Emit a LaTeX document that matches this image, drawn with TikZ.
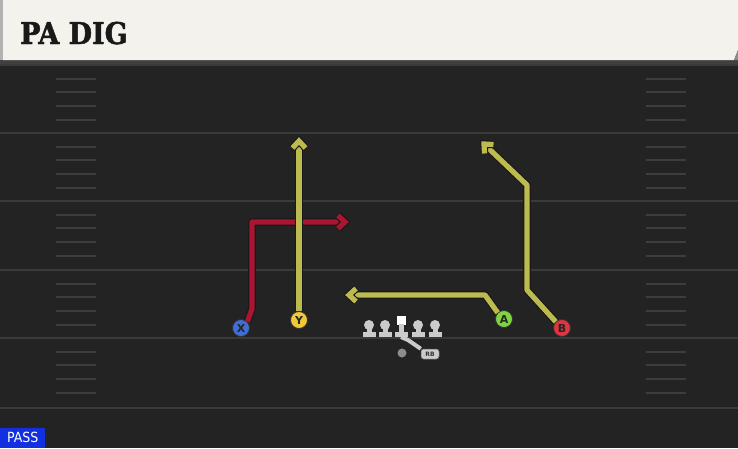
\documentclass[tikz,border=0pt]{standalone}
\usepackage{fontspec}
\usetikzlibrary{calc}
\setmainfont{DejaVu Sans}
\newfontfamily\titlefont{DejaVu Serif Condensed Bold}[FakeBold=1.6]
\newfontfamily\passfont{DejaVu Sans Condensed}
\definecolor{fieldbg}{HTML}{232323}
\definecolor{yardline}{HTML}{3A3A3A}
\definecolor{hashc}{HTML}{3D3D3D}
\definecolor{cream}{HTML}{F4F2EC}
\definecolor{routered}{HTML}{AA1531}
\definecolor{routeyel}{HTML}{BDBA50}
\definecolor{pblue}{HTML}{3F6FD6}
\definecolor{pyel}{HTML}{F0C93A}
\definecolor{pgreen}{HTML}{7FD63C}
\definecolor{pred}{HTML}{E0343F}
\definecolor{olgray}{HTML}{CBCBCB}
\definecolor{passblue}{HTML}{1230E0}
\tikzset{
  yard/.style={draw=yardline, line width=2},
  hashmark/.style={draw=hashc, line width=2},
  route/.style={line width=5.2, line join=round, line cap=butt,
    preaction={draw=black!90, line width=7.6, line join=round}},
  chev/.style={line width=5.2, line join=miter, line cap=butt,
    preaction={draw=black!90, line width=7.6, line join=miter, line cap=square}},
  player/.style={circle, draw=black!80, line width=0.8, minimum size=17, inner sep=0,
    font=\bfseries\fontsize{11}{11}\selectfont, text=black!85},
  olc/.style={fill=olgray},
}
\begin{document}
\begin{tikzpicture}[x=1pt,y=-1pt]
\useasboundingbox (0,0) rectangle (738,448);
\fill[fieldbg] (0,0) rectangle (738,448);
% header
\fill[black!75] (0,60) rectangle (738,64);
\fill[black!30] (0,0) rectangle (3,60);
\fill[cream] (3,0) -- (738,0) -- (738,50) -- (734,60) -- (3,60) -- cycle;
\fill[black!45] (738,50) -- (734,60) -- (738,60) -- cycle;
\node[anchor=base west, inner sep=0, font=\titlefont\fontsize{30}{30}\selectfont, text=black!90] (title) at (20,44) {PA DIG};
% yard lines
\foreach \y in {65,133,201,270,338,408} {\draw[yard] (0,\y) -- (738,\y);}
% hash marks
\foreach \b in {65,133,201,270,338} {
  \foreach \k in {1,2,3,4} {
    \pgfmathsetmacro\yy{\b+13.7*\k}
    \draw[hashmark] (56,\yy) -- (96,\yy);
    \draw[hashmark] (646,\yy) -- (686,\yy);
  }
}
% players
\node[player, fill=pblue] (X) at (241,328) {X};
\node[player, fill=pyel] (Y) at (299,320) {Y};
\node[player, fill=pgreen] (A) at (504,319) {A};
\node[player, fill=pred] (B) at (562,328) {B};
% route end points
\coordinate (xt) at (345,222);
\coordinate (yt) at (299,141);
\coordinate (at) at (349,295);
\coordinate (bt) at (484,144);
% routes
\draw[route, routered] (X.north east) -- (252,309) -- (252,222) -- (xt);
\draw[chev, routered] ($(xt)+(-7,-6.5)$) -- (xt) -- ($(xt)+(-7,6.5)$);
\draw[route, routeyel] (Y.north) -- (yt);
\draw[chev, routeyel] ($(yt)+(-6.5,7)$) -- (yt) -- ($(yt)+(6.5,7)$);
\draw[route, routeyel] (A.north west) -- (485,295) -- (at);
\draw[chev, routeyel] ($(at)+(7,-6.5)$) -- (at) -- ($(at)+(7,6.5)$);
\draw[route, routeyel] (B.north west) -- (527,290) -- (527,185) -- (bt);
\draw[chev, routeyel] ($(bt)+(0.5,9.5)$) -- (bt) -- ($(bt)+(9.5,0.5)$);
% offensive line
\foreach \x/\n in {369/lt,385/lg,418/rg,435/rt} {
  \fill[olc] (\x,325) circle (5);
  \fill[olc] (\x-2.5,325) rectangle (\x+2.5,334);
  \fill[olc] (\x-6.5,332) rectangle (\x+6.5,337);
  \coordinate (\n) at (\x,330);
}
\node[fill=white, minimum size=9, inner sep=0] (C) at (401,320) {};
\fill[olc] (398.5,324) rectangle (403.5,334);
\fill[olc] (394.5,332) rectangle (407.5,337);
% QB and RB
\node[circle, fill=black!45, minimum size=9, inner sep=0] (QB) at (402,353) {};
\node[draw=black!60, line width=0.5, fill=olgray, rounded corners=2.5, minimum width=18, minimum height=10, inner sep=0,
  font=\bfseries\fontsize{6}{6}\selectfont, text=black!80] (RB) at (430,354) {RB};
\draw[olgray, line width=4, line join=round] (401,337) -- (408,340) -- (RB.north west);
% pass tag
\node[fill=passblue, anchor=south west, minimum width=45, minimum height=20, inner sep=0,
  font=\passfont\fontsize{14}{14}\selectfont, text=white] (pass) at (0,448) {PASS};
\end{tikzpicture}
\end{document}
